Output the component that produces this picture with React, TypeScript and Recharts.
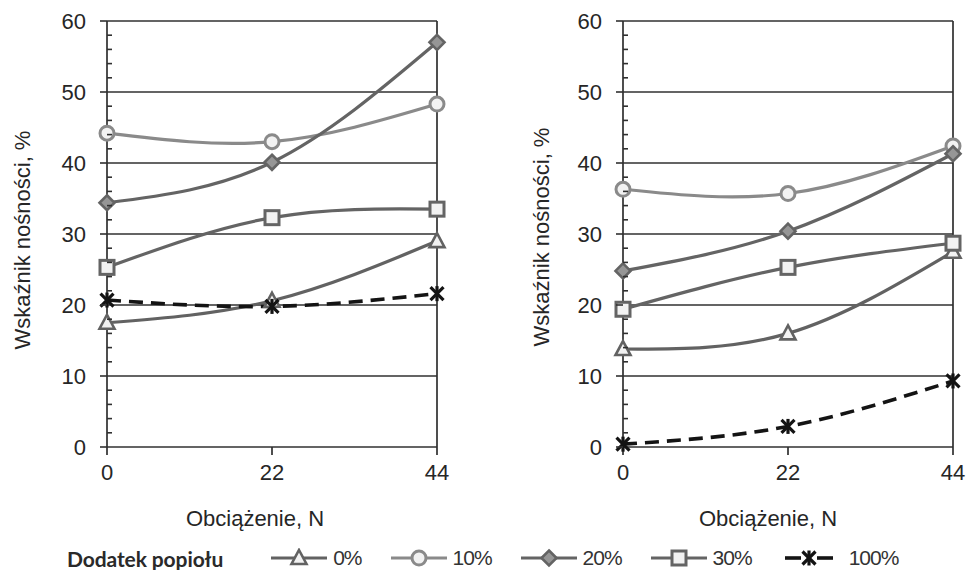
import React from 'react'
import { LineChart, Line, XAxis, YAxis, ReferenceLine } from 'recharts'

// load on the x axis, N
const loads = [0, 22, 44]
const yTicks = [0, 2, 4, 6, 8, 10, 12, 14, 16, 18, 20, 22, 24, 26, 28, 30, 32, 34, 36, 38, 40, 42, 44, 46, 48, 50, 52, 54, 56, 58, 60]
const yGrid = [10, 20, 30, 40, 50, 60]

const seriesKeys = ['p0', 'p10', 'p20', 'p30', 'p100']
const seriesNames = ['0%', '10%', '20%', '30%', '100%']

// left panel
const left0 = [17.5, 20.6, 29.0]
const left10 = [44.2, 43.0, 48.3]
const left20 = [34.4, 40.1, 57.0]
const left30 = [25.3, 32.3, 33.5]
const left100 = [20.7, 19.8, 21.6]

// right panel
const right0 = [13.8, 16.0, 27.5]
const right10 = [36.3, 35.7, 42.4]
const right20 = [24.8, 30.4, 41.3]
const right30 = [19.4, 25.3, 28.7]
const right100 = [0.4, 2.9, 9.3]

const toRows = (cols: number[][]) =>
  loads.map((n, i) => {
    const row: Record<string, number> = { n }
    seriesKeys.forEach((k, j) => { row[k] = cols[j][i] })
    return row
  })

const leftRows = toRows([left0, left10, left20, left30, left100])
const rightRows = toRows([right0, right10, right20, right30, right100])

const styles: Record<string, { color: string; shape: string; dash?: string; width: number }> = {
  p0: { color: '#626262', shape: 'triangle', width: 3.2 },
  p10: { color: '#8a8a8a', shape: 'circle', width: 3.2 },
  p20: { color: '#646464', shape: 'diamond', width: 3.2 },
  p30: { color: '#646464', shape: 'square', width: 3.2 },
  p100: { color: '#141414', shape: 'star', dash: '14 8', width: 3.6 },
}

const axisColor = '#303030'
const textColor = '#262626'
const font = "'Liberation Sans', Arial, sans-serif"

function Marker({ cx, cy, shape, color }: any) {
  if (cx == null || cy == null) return null
  if (shape === 'triangle')
    return <path d={`M${cx},${cy - 8} L${cx + 7.5},${cy + 6} L${cx - 7.5},${cy + 6} Z`} fill="#f2f2f2" stroke={color} strokeWidth={2.6} />
  if (shape === 'circle') return <circle cx={cx} cy={cy} r={7} fill="#f2f2f2" stroke={color} strokeWidth={3} />
  if (shape === 'diamond')
    return <path d={`M${cx},${cy - 7.5} L${cx + 7.5},${cy} L${cx},${cy + 7.5} L${cx - 7.5},${cy} Z`} fill="#969696" stroke={color} strokeWidth={2.6} />
  if (shape === 'square') return <rect x={cx - 7} y={cy - 7} width={14} height={14} fill="#f2f2f2" stroke={color} strokeWidth={3} />
  return (
    <g stroke={color} strokeWidth={3.2}>
      <line x1={cx - 6.5} y1={cy - 6.5} x2={cx + 6.5} y2={cy + 6.5} />
      <line x1={cx - 6.5} y1={cy + 6.5} x2={cx + 6.5} y2={cy - 6.5} />
      <line x1={cx} y1={cy - 7.5} x2={cx} y2={cy + 7.5} />
    </g>
  )
}

function YTick({ x, y, payload }: any) {
  const ax = x + 8 // tickSize 6 + tickMargin 2
  const major = payload.value % 10 === 0
  return (
    <g>
      {major ? (
        <line x1={ax - 7} x2={ax} y1={y} y2={y} stroke={axisColor} strokeWidth={1.6} />
      ) : (
        <line x1={ax} x2={ax + 5} y1={y} y2={y} stroke={axisColor} strokeWidth={1.6} />
      )}
      {major && (
        <text x={ax - 21} y={y} dy="0.36em" textAnchor="end" fontSize={22} fill={textColor} fontFamily={font}>
          {payload.value}
        </text>
      )}
    </g>
  )
}

function Panel({ rows, width, marginLeft, marginRight }: { rows: any[]; width: number; marginLeft: number; marginRight: number }) {
  return (
    <LineChart width={width} height={500} data={rows} margin={{ top: 21, right: marginRight, left: marginLeft, bottom: 23 }}>
      <XAxis
        dataKey="n" type="number" domain={[0, 44]} ticks={loads} height={30}
        tick={{ fontSize: 22, fill: textColor, fontFamily: font }}
        tickSize={8} tickMargin={9}
        axisLine={{ stroke: axisColor, strokeWidth: 1.7 }}
        tickLine={{ stroke: axisColor, strokeWidth: 1.7 }}
      />
      <YAxis
        domain={[0, 60]} ticks={yTicks} interval={0} width={60}
        tick={<YTick />} tickLine={false}
        axisLine={{ stroke: axisColor, strokeWidth: 1.7 }}
      />
      {yGrid.map((v) => (
        <ReferenceLine key={v} y={v} stroke={axisColor} strokeWidth={1.7} />
      ))}
      <ReferenceLine x={44} stroke={axisColor} strokeWidth={1.7} />
      {seriesKeys.map((k, i) => {
        const s = styles[k]
        return (
          <Line
            key={k} dataKey={k} name={seriesNames[i]} type="natural"
            stroke={s.color} strokeWidth={s.width} strokeDasharray={s.dash}
            dot={(p: any) => <Marker key={`${k}-${p.index}`} cx={p.cx} cy={p.cy} shape={s.shape} color={s.color} />}
            activeDot={false} isAnimationActive={false}
          />
        )
      })}
    </LineChart>
  )
}

const titleStyle: React.CSSProperties = {
  position: 'absolute', fontSize: 22, fontFamily: font, color: textColor,
  lineHeight: '28px', textAlign: 'center', whiteSpace: 'nowrap',
}

function YTitle({ cx, cy }: { cx: number; cy: number }) {
  return (
    <div style={{ ...titleStyle, width: 300, height: 28, left: cx - 150, top: cy - 14, transform: 'rotate(-90deg)' }}>
      Wskaźnik nośności, %
    </div>
  )
}

function XTitle({ cx, cy }: { cx: number; cy: number }) {
  return (
    <div style={{ ...titleStyle, width: 300, left: cx - 150, top: cy - 14 }}>Obciążenie, N</div>
  )
}

function LegendSample({ k }: { k: string }) {
  const s = styles[k]
  return (
    <svg width={56} height={20} style={{ display: 'block' }}>
      {s.dash ? (
        <g stroke={s.color} strokeWidth={s.width}>
          <line x1={4} x2={20} y1={10} y2={10} />
          <line x1={36} x2={52} y1={10} y2={10} />
        </g>
      ) : (
        <line x1={0} x2={56} y1={10} y2={10} stroke={s.color} strokeWidth={s.width} />
      )}
      <Marker cx={28} cy={10} shape={s.shape} color={s.color} />
    </svg>
  )
}

export default function App() {
  return (
    <div style={{ position: 'absolute', left: 0, top: 0, width: 967, height: 570, background: '#fff', overflow: 'hidden' }}>
      <div style={{ position: 'absolute', left: 0, top: 0 }}>
        <Panel rows={leftRows} width={480} marginLeft={47} marginRight={43} />
      </div>
      <div style={{ position: 'absolute', left: 480, top: 0 }}>
        <Panel rows={rightRows} width={487} marginLeft={83} marginRight={14} />
      </div>
      <YTitle cx={23} cy={240} />
      <YTitle cx={542} cy={237} />
      <XTitle cx={255} cy={519} />
      <XTitle cx={768} cy={519} />
      <div style={{ position: 'absolute', left: 67, top: 544, height: 28, display: 'flex', alignItems: 'center' }}>
        <span style={{ fontFamily: "Lato, 'Open Sans', sans-serif", fontWeight: 700, fontSize: 21, color: '#2a2a2a', marginRight: 48, letterSpacing: -0.1 }}>
          Dodatek popiołu
        </span>
        {seriesKeys.map((k, i) => (
          <div key={k} style={{ display: 'flex', alignItems: 'center', marginRight: 29 }}>
            <LegendSample k={k} />
            <span style={{ marginLeft: k === 'p100' ? 12 : 6, fontFamily: font, fontSize: 21, letterSpacing: -1, color: '#333' }}>
              {seriesNames[i]}
            </span>
          </div>
        ))}
      </div>
    </div>
  )
}
